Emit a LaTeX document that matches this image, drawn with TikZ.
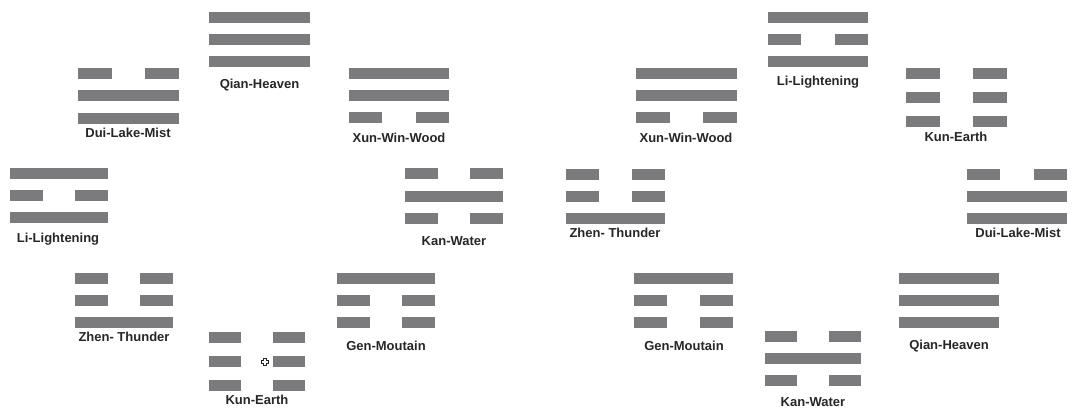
\documentclass[tikz,border=0pt]{standalone}
\usepackage{fontspec}
\setmainfont{Liberation Sans}
\definecolor{barc}{HTML}{7B7B7D}
\definecolor{txtc}{HTML}{262626}
\newcommand\yao[4]{%
  \ifnum#4=1
    \fill[barc] (#1,#2) rectangle ++(#3,10.5);
  \else
    \fill[barc] (#1,#2) rectangle ++({#3/3},10.5);
    \fill[barc] ({#1+2*#3/3},#2) rectangle ++({#3/3},10.5);
  \fi}
% \trigram{name}{x}{w}{y1}{y2}{y3}{p1}{p2}{p3}
\newcommand\trigram[9]{%
  \yao{#2}{#4}{#3}{#7}\yao{#2}{#5}{#3}{#8}\yao{#2}{#6}{#3}{#9}%
  \coordinate (#1) at ({#2+#3/2},#4);}
\tikzset{lbl/.style={font=\bfseries\fontsize{13}{15}\selectfont, text=txtc, inner sep=0pt, anchor=base}}
\begin{document}
\begin{tikzpicture}[x=1pt,y=-1pt]
\useasboundingbox (0,0) rectangle (1073,408);
% left arrangement
\trigram{qianL}{209}{101}{12}{34}{56}{1}{1}{1}
\node[lbl] (tqianL) at (259.5,88.7) {Qian-Heaven};
\trigram{duiL}{78}{101}{68}{90}{113}{0}{1}{1}
\node[lbl] (tduiL) at (128,137.7) {Dui-Lake-Mist};
\trigram{xunL}{349}{100}{68}{90}{112}{1}{1}{0}
\node[lbl] (txunL) at (399,142.7) {Xun-Win-Wood};
\trigram{liL}{10}{98}{168}{190}{212}{1}{0}{1}
\node[lbl] (tliL) at (58,242.7) {Li-Lightening};
\trigram{kanL}{405}{98}{168}{191}{213}{0}{1}{0}
\node[lbl] (tkanL) at (454,245.7) {Kan-Water};
\trigram{zhenL}{75}{98}{273}{295}{317}{0}{0}{1}
\node[lbl] (tzhenL) at (124,341.7) {Zhen- Thunder};
\trigram{genL}{337}{98}{273}{295}{317}{1}{0}{0}
\node[lbl] (tgenL) at (386,350.7) {Gen-Moutain};
\trigram{kunL}{209}{96}{332}{356}{380}{0}{0}{0}
\node[lbl] (tkunL) at (257,404.7) {Kun-Earth};
% cursor mark
\coordinate (cur) at (265,362);
\draw[fill=white, draw=black!85, line width=0.7pt]
  ([shift={(-1.3,-3.8)}]cur) -- ++(2.6,0) -- ++(0,2.5) -- ++(2.5,0) -- ++(0,2.6) -- ++(-2.5,0)
  -- ++(0,2.5) -- ++(-2.6,0) -- ++(0,-2.5) -- ++(-2.5,0) -- ++(0,-2.6) -- ++(2.5,0) -- cycle;
% right arrangement
\trigram{liR}{768}{100}{12}{34}{56}{1}{0}{1}
\node[lbl] (tliR) at (818,85.7) {Li-Lightening};
\trigram{xunR}{636}{101}{68}{90}{112}{1}{1}{0}
\node[lbl] (txunR) at (686,142.7) {Xun-Win-Wood};
\trigram{kunR}{906}{101}{68}{92}{116}{0}{0}{0}
\node[lbl] (tkunR) at (956,141.7) {Kun-Earth};
\trigram{zhenR}{566}{99}{169}{191}{213}{0}{0}{1}
\node[lbl] (tzhenR) at (615,237.7) {Zhen- Thunder};
\trigram{duiR}{967}{100}{169}{191}{213}{0}{1}{1}
\node[lbl] (tduiR) at (1018,237.7) {Dui-Lake-Mist};
\trigram{genR}{634}{99}{273}{295}{317}{1}{0}{0}
\node[lbl] (tgenR) at (684,350.7) {Gen-Moutain};
\trigram{kanR}{765}{96}{331}{353}{375}{0}{1}{0}
\node[lbl] (tkanR) at (813,406.7) {Kan-Water};
\trigram{qianR}{899}{100}{273}{295}{317}{1}{1}{1}
\node[lbl] (tqianR) at (949,349.7) {Qian-Heaven};
\end{tikzpicture}
\end{document}
